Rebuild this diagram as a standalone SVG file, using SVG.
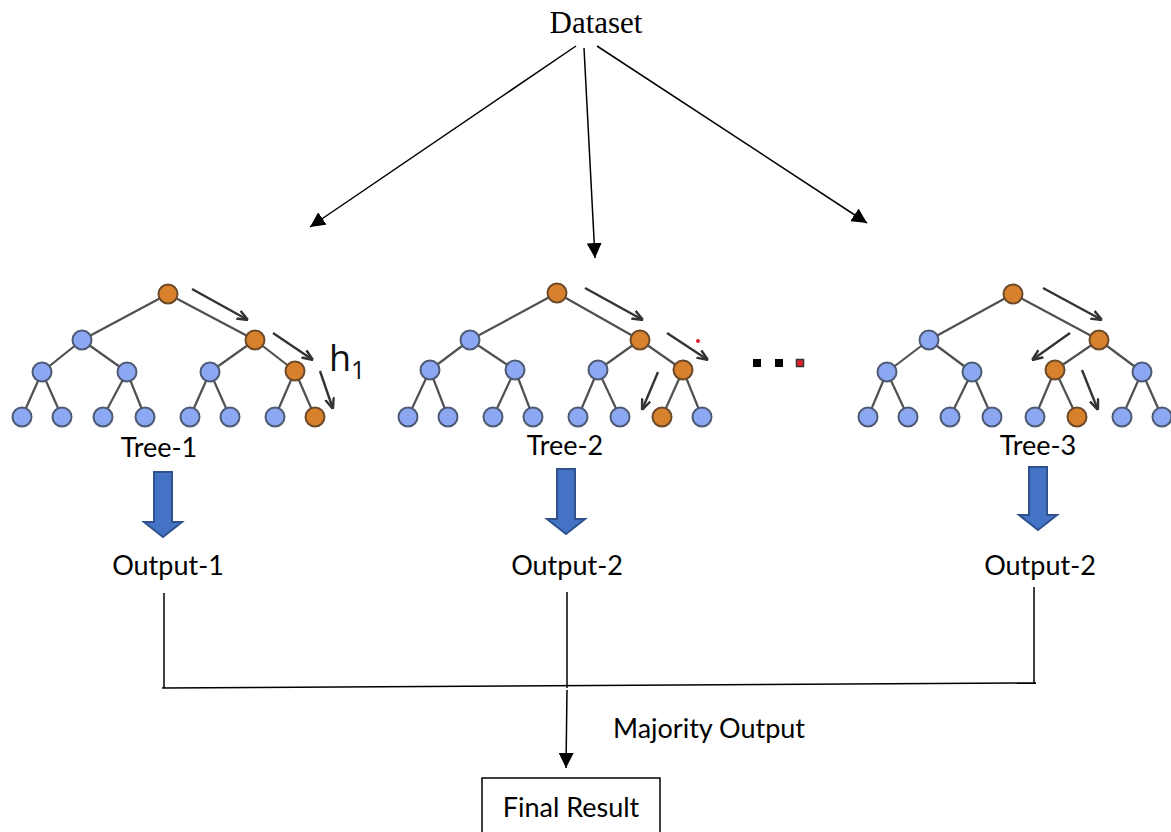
<svg xmlns="http://www.w3.org/2000/svg" width="1171" height="832" viewBox="0 0 1171 832">
<style>
.lbl{font-family:Lato,"Liberation Sans",sans-serif;font-size:27px;fill:#000;text-anchor:middle}
.ser{font-family:"Liberation Serif","Times New Roman",serif;font-size:31px;fill:#000;text-anchor:middle}
.e{stroke:#505050;stroke-width:2.2;fill:none}
.b{fill:#8DA8F2;stroke:#4d5a73;stroke-width:2}
.o{fill:#D8812C;stroke:#6b4a2a;stroke-width:2}
.ta{stroke:#333;stroke-width:2.4;fill:none;marker-end:url(#ta)}
.con{stroke:#000;stroke-width:1.5;fill:none}
.blk{fill:#4472C4;stroke:#2F528F;stroke-width:2}
</style>
<defs>
<marker id="ah2" viewBox="0 0 10 10" refX="10" refY="5" markerWidth="15" markerHeight="15" markerUnits="userSpaceOnUse" orient="auto"><path d="M0,0 L10,5 L0,10 z" fill="#000"/></marker>
<marker id="ta" viewBox="0 0 10 10" refX="10" refY="5" markerWidth="11" markerHeight="11" markerUnits="userSpaceOnUse" orient="auto"><path d="M0,1 L10,5 L0,9" fill="none" stroke="#333" stroke-width="2.2"/></marker>
</defs>
<rect width="1171" height="832" fill="#fff"/>

<g id="dataset"><text class="ser" x="596" y="33">Dataset</text></g>

<g id="connectors">
<line class="con" x1="576" y1="46" x2="310" y2="227" marker-end="url(#ah2)"/>
<line class="con" x1="584" y1="48" x2="595" y2="258" marker-end="url(#ah2)"/>
<line class="con" x1="597" y1="46" x2="867" y2="223" marker-end="url(#ah2)"/>
<line class="con" x1="164" y1="593" x2="164" y2="688"/>
<line class="con" x1="567" y1="592" x2="567" y2="688"/>
<line class="con" x1="1034" y1="587" x2="1034" y2="683"/>
<line class="con" x1="162" y1="688" x2="1036" y2="683"/>
<line class="con" x1="567" y1="690" x2="566" y2="768" marker-end="url(#ah2)"/>
</g>

<g id="tree1">
<g class="edges">
<line class="e" x1="168" y1="294" x2="82" y2="340"/><line class="e" x1="168" y1="294" x2="255" y2="340"/>
<line class="e" x1="82" y1="340" x2="42" y2="372"/><line class="e" x1="82" y1="340" x2="127" y2="372"/>
<line class="e" x1="255" y1="340" x2="210" y2="372"/><line class="e" x1="255" y1="340" x2="295" y2="371"/>
<line class="e" x1="42" y1="372" x2="22" y2="417"/><line class="e" x1="42" y1="372" x2="62" y2="417"/>
<line class="e" x1="127" y1="372" x2="103" y2="417"/><line class="e" x1="127" y1="372" x2="145" y2="417"/>
<line class="e" x1="210" y1="372" x2="190" y2="417"/><line class="e" x1="210" y1="372" x2="230" y2="417"/>
<line class="e" x1="295" y1="371" x2="275" y2="417"/><line class="e" x1="295" y1="371" x2="315" y2="417"/>
</g>
<circle class="o" cx="168" cy="294" r="9.5"/>
<circle class="b" cx="82" cy="340" r="9.5"/><circle class="o" cx="255" cy="340" r="9.5"/>
<circle class="b" cx="42" cy="372" r="9.5"/><circle class="b" cx="127" cy="372" r="9.5"/><circle class="b" cx="210" cy="372" r="9.5"/><circle class="o" cx="295" cy="371" r="9.5"/>
<circle class="b" cx="22" cy="417" r="9.5"/><circle class="b" cx="62" cy="417" r="9.5"/><circle class="b" cx="103" cy="417" r="9.5"/><circle class="b" cx="145" cy="417" r="9.5"/>
<circle class="b" cx="190" cy="417" r="9.5"/><circle class="b" cx="230" cy="417" r="9.5"/><circle class="b" cx="275" cy="417" r="9.5"/><circle class="o" cx="315" cy="417" r="9.5"/>
<line class="ta" x1="192" y1="289" x2="248" y2="320"/>
<line class="ta" x1="273" y1="333" x2="313" y2="360"/>
<line class="ta" x1="320" y1="371" x2="333" y2="409"/>
<text x="329" y="371" font-family="'Open Sans','Liberation Sans',sans-serif" font-size="36" fill="#111">h<tspan font-size="25" dy="8">1</tspan></text>
</g>

<g id="tree2">
<g class="edges">
<line class="e" x1="557" y1="293" x2="470" y2="340"/><line class="e" x1="557" y1="293" x2="640" y2="340"/>
<line class="e" x1="470" y1="340" x2="430" y2="370"/><line class="e" x1="470" y1="340" x2="515" y2="370"/>
<line class="e" x1="640" y1="340" x2="598" y2="370"/><line class="e" x1="640" y1="340" x2="683" y2="370"/>
<line class="e" x1="430" y1="370" x2="408" y2="417"/><line class="e" x1="430" y1="370" x2="448" y2="417"/>
<line class="e" x1="515" y1="370" x2="493" y2="417"/><line class="e" x1="515" y1="370" x2="533" y2="417"/>
<line class="e" x1="598" y1="370" x2="578" y2="417"/><line class="e" x1="598" y1="370" x2="620" y2="417"/>
<line class="e" x1="683" y1="370" x2="662" y2="417"/><line class="e" x1="683" y1="370" x2="702" y2="417"/>
</g>
<circle class="o" cx="557" cy="293" r="9.5"/>
<circle class="b" cx="470" cy="340" r="9.5"/><circle class="o" cx="640" cy="340" r="9.5"/>
<circle class="b" cx="430" cy="370" r="9.5"/><circle class="b" cx="515" cy="370" r="9.5"/><circle class="b" cx="598" cy="370" r="9.5"/><circle class="o" cx="683" cy="370" r="9.5"/>
<circle class="b" cx="408" cy="417" r="9.5"/><circle class="b" cx="448" cy="417" r="9.5"/><circle class="b" cx="493" cy="417" r="9.5"/><circle class="b" cx="533" cy="417" r="9.5"/>
<circle class="b" cx="578" cy="417" r="9.5"/><circle class="b" cx="620" cy="417" r="9.5"/><circle class="o" cx="662" cy="417" r="9.5"/><circle class="b" cx="702" cy="417" r="9.5"/>
<line class="ta" x1="585" y1="288" x2="643" y2="320"/>
<line class="ta" x1="667" y1="333" x2="708" y2="360"/>
<line class="ta" x1="658" y1="372" x2="642" y2="410"/>
<circle cx="698" cy="341" r="2" fill="#e0202a"/>
</g>

<g id="ellipsis">
<rect x="753" y="359" width="8" height="8" fill="#000"/>
<rect x="775" y="359" width="8" height="8" fill="#000"/>
<rect x="796.5" y="359.5" width="7" height="7" fill="#e0202a" stroke="#333" stroke-width="1.5"/>
</g>

<g id="tree3">
<g class="edges">
<line class="e" x1="1013" y1="294" x2="929" y2="340"/><line class="e" x1="1013" y1="294" x2="1099" y2="340"/>
<line class="e" x1="929" y1="340" x2="887" y2="372"/><line class="e" x1="929" y1="340" x2="972" y2="372"/>
<line class="e" x1="1099" y1="340" x2="1055" y2="370"/><line class="e" x1="1099" y1="340" x2="1142" y2="372"/>
<line class="e" x1="887" y1="372" x2="868" y2="417"/><line class="e" x1="887" y1="372" x2="908" y2="417"/>
<line class="e" x1="972" y1="372" x2="950" y2="417"/><line class="e" x1="972" y1="372" x2="992" y2="417"/>
<line class="e" x1="1055" y1="370" x2="1035" y2="417"/><line class="e" x1="1055" y1="370" x2="1077" y2="417"/>
<line class="e" x1="1142" y1="372" x2="1122" y2="417"/><line class="e" x1="1142" y1="372" x2="1162" y2="417"/>
</g>
<circle class="o" cx="1013" cy="294" r="9.5"/>
<circle class="b" cx="929" cy="340" r="9.5"/><circle class="o" cx="1099" cy="340" r="9.5"/>
<circle class="b" cx="887" cy="372" r="9.5"/><circle class="b" cx="972" cy="372" r="9.5"/><circle class="o" cx="1055" cy="370" r="9.5"/><circle class="b" cx="1142" cy="372" r="9.5"/>
<circle class="b" cx="868" cy="417" r="9.5"/><circle class="b" cx="908" cy="417" r="9.5"/><circle class="b" cx="950" cy="417" r="9.5"/><circle class="b" cx="992" cy="417" r="9.5"/>
<circle class="b" cx="1035" cy="417" r="9.5"/><circle class="o" cx="1077" cy="417" r="9.5"/><circle class="b" cx="1122" cy="417" r="9.5"/><circle class="b" cx="1162" cy="417" r="9.5"/>
<line class="ta" x1="1043" y1="288" x2="1102" y2="320"/>
<line class="ta" x1="1070" y1="333" x2="1032" y2="360"/>
<line class="ta" x1="1082" y1="370" x2="1098" y2="410"/>
</g>

<g id="label-tree1"><text class="lbl" x="159" y="457">Tree-1</text></g>
<g id="label-tree2"><text class="lbl" x="565" y="455">Tree-2</text></g>
<g id="label-tree3"><text class="lbl" x="1038" y="455">Tree-3</text></g>

<g id="blockarrow1"><path class="blk" d="M154,472 H172 V522 H182 L163,537 L144,522 H154 Z"/></g>
<g id="blockarrow2"><path class="blk" d="M557,469 H575 V519 H585 L566,534 L547,519 H557 Z"/></g>
<g id="blockarrow3"><path class="blk" d="M1029,467 H1047 V515 H1057 L1038,530 L1019,515 H1029 Z"/></g>

<g id="output1"><text class="lbl" x="168" y="575">Output-1</text></g>
<g id="output2"><text class="lbl" x="567" y="575">Output-2</text></g>
<g id="output3"><text class="lbl" x="1040" y="575">Output-2</text></g>

<g id="majority"><text class="lbl" x="709" y="738">Majority Output</text></g>

<g id="final">
<rect x="482" y="778" width="178" height="70" fill="none" stroke="#000" stroke-width="1.5"/>
<text class="lbl" x="571" y="817">Final Result</text>
</g>
</svg>
